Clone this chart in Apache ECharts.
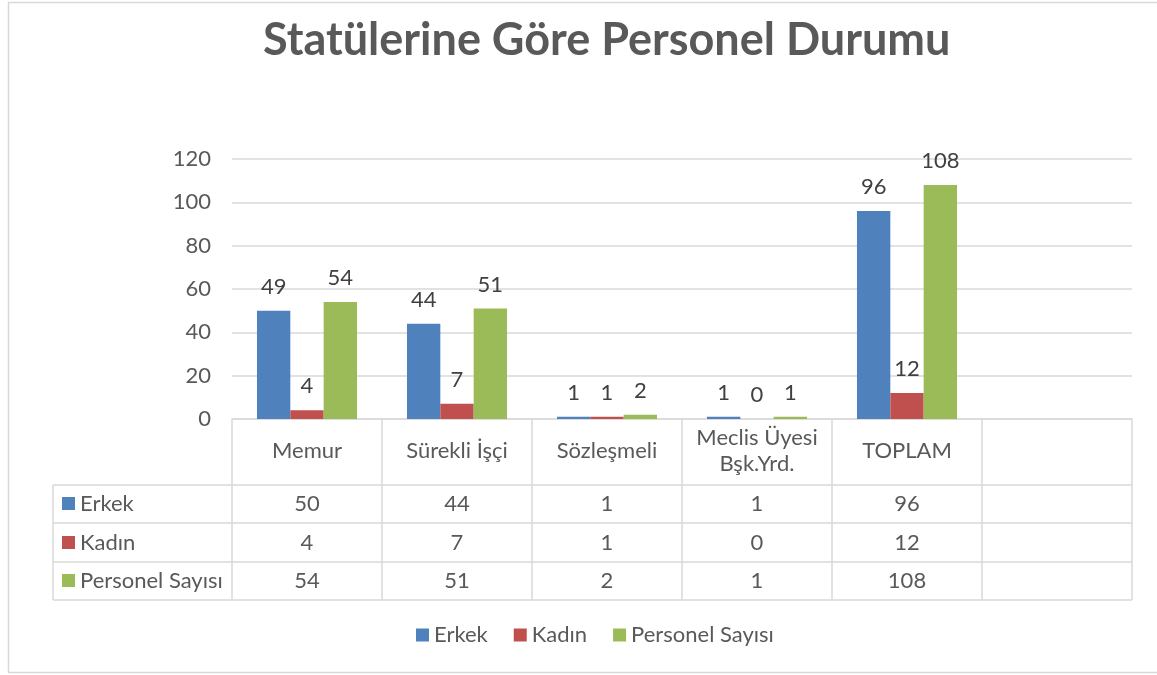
<!DOCTYPE html>
<html>
<head>
<meta charset="utf-8">
<script src="https://cdn.jsdelivr.net/npm/echarts@6/dist/echarts.min.js"></script>
<style>
  html, body { margin: 0; padding: 0; background: #fff; }
  #main { width: 1157px; height: 675px; }
</style>
</head>
<body>
<div id="main"></div>
<script>
const categories = ['Memur', 'Sürekli İşçi', 'Sözleşmeli', 'Meclis Üyesi\nBşk.Yrd.', 'TOPLAM', '']
const seriesNames = ['Erkek', 'Kadın', 'Personel Sayısı']
const erkek = [50, 44, 1, 1, 96]
const kadin = [4, 7, 1, 0, 12]
const personel = [54, 51, 2, 1, 108]
// labels as printed above the bars (Memur shows 49 over a 50 bar)
const erkekLabels = [49, 44, 1, 1, 96]
const kadinLabels = [4, 7, 1, 0, 12]
const personelLabels = [54, 51, 2, 1, 108]
const yMin = 0, yMax = 120, yStep = 20

const colors = ['#4f81bd', '#c0504d', '#9bbb59']
const textColor = '#595959'
const lineColor = '#d9d9d9'
const font = 'Lato, Carlito, sans-serif'
const fs = 22

// layout
const W = 1157
const gridLeft = 232, gridRight = 25, gridTop = 159, gridBottomY = 419
const tableLeft = 53
const rowLines = [485, 523, 562, 600]
const rowCenters = [504, 543, 581]

const seriesData = [erkek, kadin, personel]
const seriesLabels = [erkekLabels, kadinLabels, personelLabels]

let myChart = echarts.init(document.getElementById('main'))

const xAxes = [{
  type: 'category',
  data: categories,
  position: 'bottom',
  axisLine: { lineStyle: { color: lineColor, width: 1.5 } },
  axisTick: { show: true, interval: 0, length: rowLines[3] - gridBottomY, lineStyle: { color: lineColor, width: 1.5 } },
  axisLabel: {
    interval: 0, margin: 32, verticalAlign: 'middle',
    color: textColor, fontSize: fs, fontFamily: font, lineHeight: 26
  }
}]
seriesData.forEach((arr, i) => {
  xAxes.push({
    type: 'category',
    data: categories,
    position: 'bottom',
    axisLine: { show: false },
    axisTick: { show: false },
    axisLabel: {
      interval: 0, margin: rowCenters[i] - gridBottomY, verticalAlign: 'middle',
      color: textColor, fontSize: fs, fontFamily: font,
      formatter: (v, idx) => (arr[idx] === undefined ? '' : String(arr[idx]))
    }
  })
})

const graphics = [
  // outer frame
  { type: 'rect', shape: { x: 8.5, y: 2.5, width: 1160, height: 670 }, style: { fill: null, stroke: lineColor, lineWidth: 1.5 }, silent: true },
  // table left edge
  { type: 'line', shape: { x1: tableLeft, y1: rowLines[0], x2: tableLeft, y2: rowLines[3] }, style: { stroke: lineColor, lineWidth: 1.5 } }
]
rowLines.forEach(y => {
  graphics.push({ type: 'line', shape: { x1: tableLeft, y1: y, x2: W - gridRight, y2: y }, style: { stroke: lineColor, lineWidth: 1.5 } })
})
seriesNames.forEach((name, i) => {
  graphics.push({ type: 'rect', shape: { x: 62, y: rowCenters[i] - 7, width: 13, height: 13 }, style: { fill: colors[i] } })
  graphics.push({ type: 'text', x: 80, y: rowCenters[i], style: { text: name, fill: textColor, font: fs + 'px ' + font, verticalAlign: 'middle' } })
})

let option = {
  backgroundColor: '#fff',
  color: colors,
  title: {
    text: 'Statülerine Göre Personel Durumu',
    left: 258,
    top: 13,
    textStyle: { color: textColor, fontSize: 45, fontWeight: 'bold', fontFamily: font }
  },
  legend: {
    bottom: 24,
    left: 411,
    icon: 'rect',
    itemWidth: 13,
    itemHeight: 13,
    itemGap: 26,
    textStyle: { color: textColor, fontSize: fs, fontFamily: font },
    data: seriesNames
  },
  grid: {
    left: gridLeft,
    right: gridRight,
    top: gridTop,
    bottom: 675 - gridBottomY
  },
  xAxis: xAxes,
  yAxis: {
    type: 'value',
    min: yMin,
    max: yMax,
    interval: yStep,
    axisLine: { show: false },
    axisTick: { show: false },
    splitLine: { lineStyle: { color: lineColor, width: 1.5 } },
    axisLabel: { color: textColor, fontSize: fs, fontFamily: font, margin: 21 }
  },
  graphic: graphics,
  series: seriesNames.map((name, i) => ({
    name: name,
    type: 'bar',
    data: seriesData[i],
    barGap: '0%',
    barCategoryGap: '33.3%',
    label: {
      show: true,
      position: 'top',
      distance: 13,
      color: '#404040',
      fontSize: fs,
      fontFamily: font,
      formatter: p => String(seriesLabels[i][p.dataIndex])
    }
  }))
}
myChart.setOption(option)
</script>
</body>
</html>
